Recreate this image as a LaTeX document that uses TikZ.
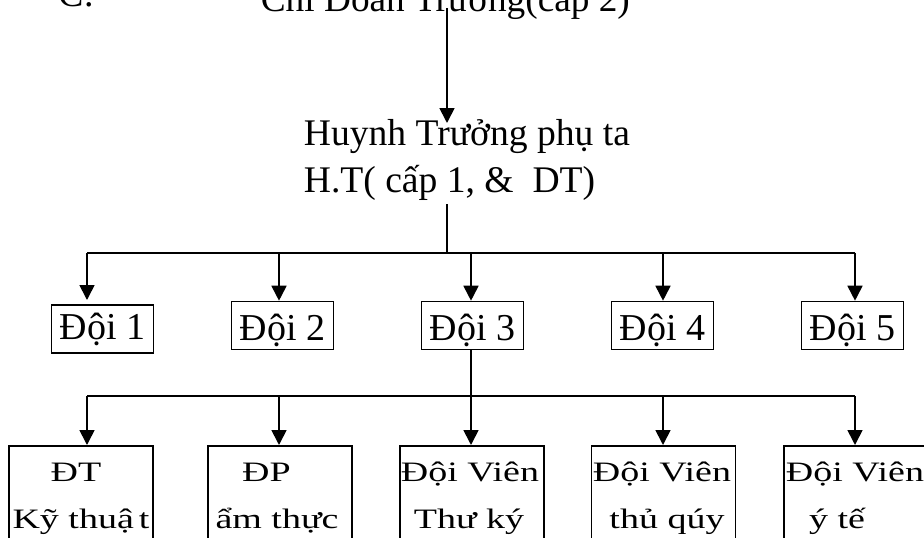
\documentclass[tikz,border=0pt]{standalone}
\usepackage{graphicx}
\usepackage{fontspec}
\setmainfont{Liberation Serif}
\usetikzlibrary{arrows.meta}
\newcommand{\sq}[1]{\scalebox{1}[0.74]{#1}}
\begin{document}
\begin{tikzpicture}[x=1pt,y=-1pt,line width=1.7pt,
  arr/.style={-{Triangle[length=15pt,width=15pt]}},
  txt/.style={inner sep=0pt,anchor=base,font=\fontsize{38}{45}\selectfont},
  dbox/.style={draw,rectangle,minimum width=102pt,minimum height=48pt,inner sep=0pt,text depth=0pt,anchor=north west,font=\fontsize{38}{45}\selectfont},
  vbox/.style={draw,rectangle,minimum width=144pt,minimum height=120pt,inner sep=0pt,anchor=north west}
]
\useasboundingbox (0,0) rectangle (924,538);

% top (cut) title
\node[txt,anchor=base west] (cc) at (58,6) {C.};
\node[txt,anchor=base west,font=\fontsize{37.3}{45}\selectfont] (title) at (260,11) {Chi Đoàn Trưởng(cấp 2)};

% assistant leader
\node[txt,anchor=base west,font=\fontsize{37.6}{45}\selectfont] (ht1) at (303,145) {Huynh Trưởng phụ ta};
\node[txt,anchor=base west,font=\fontsize{37.6}{45}\selectfont] (ht2) at (303,192) {H.T( cấp 1, \&~~DT)};

\coordinate (a0) at (447,8);
\coordinate (a1) at (447,123);
\draw[arr] (a0) -- (a1);

% teams
\node[dbox,text height=22pt] (d1) at (50.7,304) {Đội 1};
\node[dbox,text height=29pt] (d2) at (230.7,300.7) {Đội 2};
\node[dbox,text height=29pt] (d3) at (420.7,300.7) {Đội 3};
\node[dbox,text height=29pt] (d4) at (610.7,300.7) {Đội 4};
\node[dbox,text height=29pt] (d5) at (800.7,300.7) {Đội 5};

\coordinate (b0) at (447,204);
\coordinate (h) at (447,252.7);
\coordinate (u1) at (87,252.7);
\coordinate (u2) at (279,252.7);
\coordinate (u3) at (471,252.7);
\coordinate (u4) at (663,252.7);
\coordinate (u5) at (855,252.7);
\draw (b0) -- (h);
\draw (u1) -- (u5);
\draw[arr] (u1) -- (87,300);
\draw[arr] (u2) -- (u2 |- d2.north);
\draw[arr] (u3) -- (u3 |- d3.north);
\draw[arr] (u4) -- (u4 |- d4.north);
\draw[arr] (u5) -- (u5 |- d5.north);

% members
\node[vbox] (v1) at (8.3,445) {};
\node[vbox] (v2) at (207.3,445) {};
\node[vbox] (v3) at (399,445) {};
\node[vbox] (v4) at (590.7,445) {};
\node[vbox] (v5) at (783,445) {};

\coordinate (w1) at (87,396);
\coordinate (w2) at (279,396);
\coordinate (w3) at (471,396);
\coordinate (w4) at (663,396);
\coordinate (w5) at (855,396);
\draw (w3 |- d3.south) -- (w3);
\draw (w1) -- (w5);
\draw[arr] (w1) -- (w1 |- v1.north);
\draw[arr] (w2) -- (w2 |- v2.north);
\draw[arr] (w3) -- (w3 |- v3.north);
\draw[arr] (w4) -- (w4 |- v4.north);
\draw[arr] (w5) -- (w5 |- v5.north);

\node[txt] (v1a) at (76,481.5) {\sq{ĐT}};
\node[txt] (v1b) at (81,528) {\sq{Kỹ thuậ\kern5pt t}};
\node[txt] (v2a) at (266.5,481.5) {\sq{ĐP}};
\node[txt] (v2b) at (277,528) {\sq{ẩm thực}};
\node[txt] (v3a) at (470,481.5) {\sq{Đội Viên}};
\node[txt] (v3b) at (469,528) {\sq{Thư ký}};
\node[txt] (v4a) at (662,481.5) {\sq{Đội Viên}};
\node[txt] (v4b) at (667,528) {\sq{thủ qúy}};
\node[txt] (v5a) at (855,481.5) {\sq{Đội Viên}};
\node[txt] (v5b) at (837,528) {\sq{ý tế}};
\end{tikzpicture}
\end{document}
